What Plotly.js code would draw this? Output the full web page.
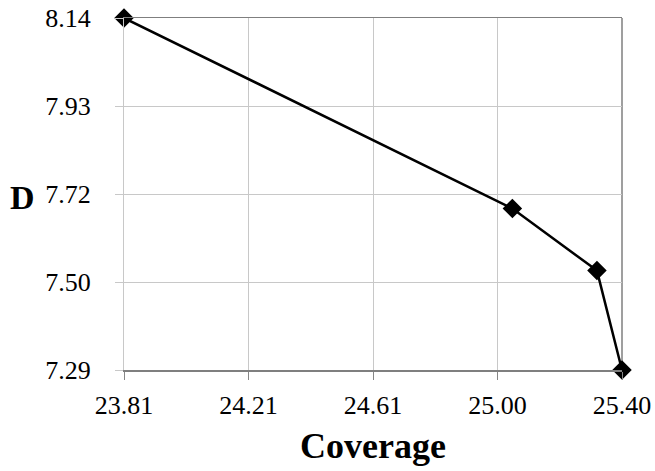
<!DOCTYPE html>
<html>
<head>
<meta charset="utf-8">
<script src="https://cdn.plot.ly/plotly-3.0.1.min.js"></script>
<style>html,body{margin:0;padding:0;background:#fff;}#chart{width:655px;height:471px;}</style>
</head>
<body>
<div id="chart"></div>
<script>
// Data
var coverage = [23.81, 25.05, 25.32, 25.40];
var dValues = [8.14, 7.68, 7.53, 7.29];

// Axis ticks
var xTickVals = [23.81, 24.2075, 24.605, 25.0025, 25.40];
var xTickText = ['23.81', '24.21', '24.61', '25.00', '25.40'];
var yTickVals = [7.29, 7.5025, 7.715, 7.9275, 8.14];
var yTickText = ['7.29', '7.50', '7.72', '7.93', '8.14'];

var xTitle = 'Coverage';
var yTitle = 'D';

var serif = 'Liberation Serif';

var trace = {
  x: coverage,
  y: dValues,
  type: 'scatter',
  mode: 'lines+markers',
  line: {color: '#000000', width: 2.5},
  marker: {symbol: 'diamond', size: 15, color: '#000000', line: {width: 0}},
  cliponaxis: false,
  hoverinfo: 'none'
};

var layout = {
  width: 655,
  height: 471,
  margin: {l: 124, r: 33, t: 18, b: 101},
  paper_bgcolor: '#ffffff',
  plot_bgcolor: '#ffffff',
  showlegend: false,
  font: {family: serif, color: '#000000'},
  xaxis: {
    range: [23.81, 25.40],
    tickmode: 'array',
    tickvals: xTickVals,
    ticktext: xTickText,
    ticks: 'outside',
    ticklen: 8,
    tickwidth: 1,
    tickcolor: '#868686',
    showgrid: true,
    gridcolor: '#c8c8c8',
    gridwidth: 1,
    showline: true,
    mirror: true,
    linecolor: '#7f7f7f',
    linewidth: 1.5,
    zeroline: false,
    tickfont: {family: serif, size: 26, color: '#000000'},
    ticklabelstandoff: 3
  },
  yaxis: {
    range: [7.29, 8.14],
    tickmode: 'array',
    tickvals: yTickVals,
    ticktext: yTickText,
    ticks: 'outside',
    ticklen: 8,
    tickwidth: 1,
    tickcolor: '#c8c8c8',
    showgrid: true,
    gridcolor: '#c8c8c8',
    gridwidth: 1,
    showline: true,
    linecolor: '#c8c8c8',
    linewidth: 1,
    zeroline: false,
    tickfont: {family: serif, size: 26, color: '#000000'},
    ticklabelstandoff: 19
  },
  shapes: [{
    type: 'line', xref: 'paper', yref: 'paper',
    x0: 1, x1: 1, y0: 0, y1: 1,
    line: {color: '#7f7f7f', width: 1.5},
    layer: 'below'
  }],
  annotations: [
    {
      text: '<b>' + xTitle + '</b>',
      xref: 'paper', yref: 'paper',
      x: 0.5, y: -0.2165,
      xanchor: 'center', yanchor: 'middle',
      showarrow: false,
      font: {family: serif, size: 36, color: '#000000'}
    },
    {
      text: '<b>' + yTitle + '</b>',
      xref: 'paper', yref: 'paper',
      x: -0.204, y: 0.491,
      xanchor: 'center', yanchor: 'middle',
      showarrow: false,
      font: {family: serif, size: 34, color: '#000000'}
    }
  ]
};

Plotly.newPlot('chart', [trace], layout, {displayModeBar: false, staticPlot: true});
</script>
</body>
</html>
